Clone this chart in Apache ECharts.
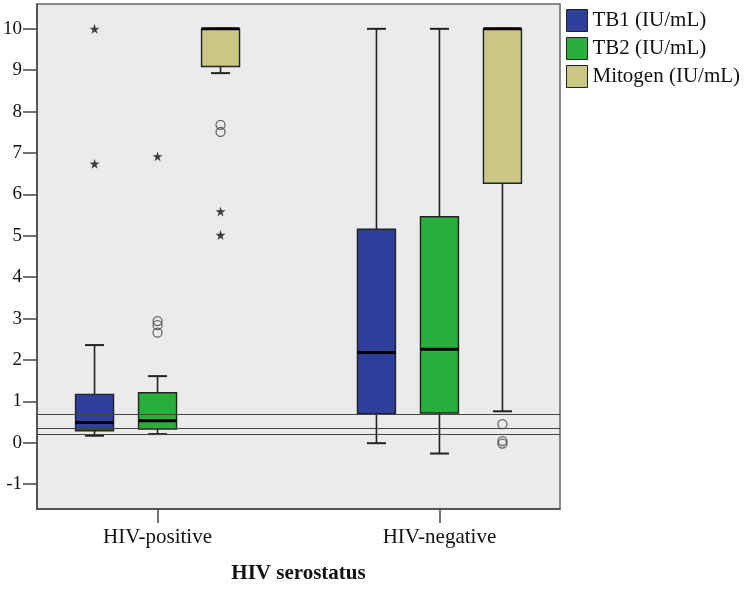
<!DOCTYPE html>
<html><head><meta charset="utf-8">
<script src="https://cdn.jsdelivr.net/npm/echarts@6/dist/echarts.min.js"></script>
<style>html,body{margin:0;padding:0;background:#fff;}#c{width:744px;height:589px;}</style>
</head><body><div id="c"></div>
<script>
// ---- data ----
const groups = ['HIV-positive', 'HIV-negative'];
const seriesNames = ['TB1 (IU/mL)', 'TB2 (IU/mL)', 'Mitogen (IU/mL)'];
// [groupIndex, lowWhisker, Q1, median, Q3, highWhisker]
const tb1Box = [[0, 0.17, 0.29, 0.49, 1.17, 2.36], [1, -0.01, 0.70, 2.18, 5.16, 10.0]];
const tb2Box = [[0, 0.21, 0.33, 0.53, 1.21, 1.61], [1, -0.26, 0.72, 2.26, 5.46, 10.0]];
const mitoBox = [[0, 8.93, 9.09, 10.0, 10.0, 10.0], [1, 0.76, 6.27, 10.0, 10.0, 10.0]];
const tb1Circles = [];
const tb1Stars = [[0, 10.0], [0, 6.74]];
const tb2Circles = [[0, 2.94], [0, 2.84], [0, 2.66]];
const tb2Stars = [[0, 6.92]];
const mitoCircles = [[0, 7.68], [0, 7.51], [1, 0.45], [1, 0.04], [1, -0.02]];
const mitoStars = [[0, 5.59], [0, 5.02]];
const cutoffs = [0.7, 0.35, 0.2];
const yTicks = [-1, 0, 1, 2, 3, 4, 5, 6, 7, 8, 9, 10];
const xTicks = [0, 1];

// ---- styles ----
const colors = ['#2f3f9c', '#2aae3b', '#c9c686'];
const offsets = [-63, 0, 63];
const boxW = 38, capW = 19;
const font = 'Liberation Serif, Times New Roman, serif';
const starPath = 'path://M50,0 L61,35 L98,35 L68,57 L79,91 L50,70 L21,91 L32,57 L2,35 L39,35 Z';

function boxRender(off) {
  return function (params, api) {
    const x = api.value(0);
    const pLow = api.coord([x, api.value(1)]);
    const pQ1 = api.coord([x, api.value(2)]);
    const pMed = api.coord([x, api.value(3)]);
    const pQ3 = api.coord([x, api.value(4)]);
    const pHigh = api.coord([x, api.value(5)]);
    const cx = pLow[0] + off;
    const ls = { stroke: '#222', lineWidth: 1.6 };
    const color = api.visual('color');
    const ch = [];
    if (pHigh[1] < pQ3[1] - 0.5) ch.push({ type: 'line', shape: { x1: cx, y1: pQ3[1], x2: cx, y2: pHigh[1] }, style: ls });
    if (pLow[1] > pQ1[1] + 0.5) ch.push({ type: 'line', shape: { x1: cx, y1: pQ1[1], x2: cx, y2: pLow[1] }, style: ls });
    ch.push({ type: 'line', shape: { x1: cx - capW / 2, y1: pHigh[1], x2: cx + capW / 2, y2: pHigh[1] }, style: { stroke: '#222', lineWidth: 2 } });
    ch.push({ type: 'line', shape: { x1: cx - capW / 2, y1: pLow[1], x2: cx + capW / 2, y2: pLow[1] }, style: { stroke: '#222', lineWidth: 2 } });
    ch.push({ type: 'rect', shape: { x: cx - boxW / 2, y: pQ3[1], width: boxW, height: pQ1[1] - pQ3[1] }, style: { fill: color, stroke: '#222', lineWidth: 1.4 } });
    ch.push({ type: 'line', shape: { x1: cx - boxW / 2, y1: pMed[1], x2: cx + boxW / 2, y2: pMed[1] }, style: { stroke: '#000', lineWidth: 3 } });
    return { type: 'group', children: ch };
  };
}

const boxData = [tb1Box, tb2Box, mitoBox];
const circleData = [tb1Circles, tb2Circles, mitoCircles];
const starData = [tb1Stars, tb2Stars, mitoStars];

const series = [];
seriesNames.forEach(function (name, i) {
  series.push({
    name: name, type: 'custom', renderItem: boxRender(offsets[i]),
    itemStyle: { color: colors[i] }, data: boxData[i],
    encode: { x: 0, y: [1, 2, 3, 4, 5] }, z: 2, silent: true
  });
});
seriesNames.forEach(function (name, i) {
  series.push({
    type: 'scatter', data: circleData[i], symbol: 'circle', symbolSize: 9,
    symbolOffset: [offsets[i], 0],
    itemStyle: { color: 'rgba(0,0,0,0)', borderColor: '#444', borderWidth: 1.3 }, z: 3, silent: true
  });
  series.push({
    type: 'scatter', data: starData[i], symbol: starPath, symbolSize: 10,
    symbolOffset: [offsets[i], 0],
    itemStyle: { color: '#111' }, z: 3, silent: true
  });
});
series.push({
  type: 'scatter', data: [], z: 5, silent: true,
  markLine: {
    silent: true, symbol: 'none', label: { show: false },
    lineStyle: { color: '#444', width: 1.2, type: 'solid' },
    data: cutoffs.map(function (v) { return { yAxis: v }; })
  }
});

const chart = echarts.init(document.getElementById('c'), null, { renderer: 'canvas' });
chart.setOption({
  animation: false,
  backgroundColor: '#fff',
  grid: { left: 36, right: 184, top: 4, bottom: 74, show: true, backgroundColor: '#ebebeb', borderColor: '#666', borderWidth: 1.5 },
  legend: {
    data: seriesNames, orient: 'vertical', left: 561, top: 4,
    itemWidth: 21, itemHeight: 22, itemGap: 5, icon: 'rect',
    itemStyle: { borderColor: '#222', borderWidth: 1 },
    textStyle: { fontFamily: font, fontSize: 21, color: '#111' }
  },
  xAxis: {
    type: 'value', min: -0.4276, max: 1.4276,
    name: 'HIV serostatus', nameLocation: 'middle', nameGap: 54,
    nameTextStyle: { fontFamily: font, fontSize: 21, fontWeight: 'bold', color: '#111' },
    axisLine: { show: true, onZero: false, lineStyle: { color: '#444', width: 1.5 } },
    axisTick: { show: true, length: 14, customValues: xTicks, lineStyle: { color: '#444', width: 1.5 } },
    axisLabel: { customValues: xTicks, margin: 18, fontFamily: font, fontSize: 21, color: '#111',
      formatter: function (v) { return groups[Math.round(v)] || ''; } },
    splitLine: { show: false }
  },
  yAxis: {
    type: 'value', min: -1.6, max: 10.6,
    axisLine: { show: true, onZero: false, lineStyle: { color: '#444', width: 1.5 } },
    axisTick: { show: true, length: 14, customValues: yTicks, lineStyle: { color: '#444', width: 1.5 } },
    axisLabel: { customValues: yTicks, margin: 15, fontFamily: font, fontSize: 19, color: '#111' },
    splitLine: { show: false }
  },
  series: series
});
</script></body></html>
